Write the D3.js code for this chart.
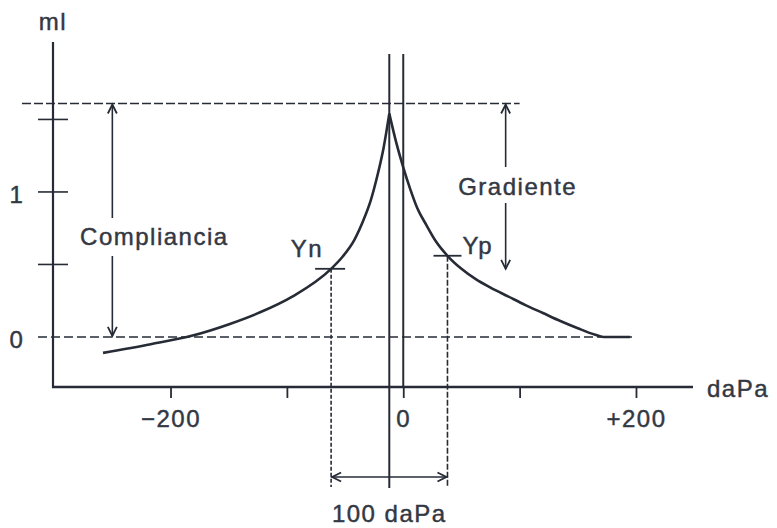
<!DOCTYPE html>
<html>
<head>
<meta charset="utf-8">
<script src="https://cdn.jsdelivr.net/npm/d3@7/dist/d3.min.js"></script>
<style>
  html, body { margin: 0; padding: 0; background: #fff; }
  svg { display: block; }
  text { font-family: "Liberation Sans", Arial, sans-serif; font-size: 24px; fill: #333843; stroke: #333843; stroke-width: 0.45px; letter-spacing: 1.5px; }
</style>
</head>
<body>
<svg id="chart" width="777" height="528"></svg>
<script>
// Tympanogram: compliance (ml) against ear-canal pressure (daPa)

// Left branch of the curve (pressure rising to the peak)
const leftPressure = [-258, -217, -181, -149, -123, -95, -62, -52, -42, -34, -28, -22, -17, -12];
const leftVolume   = [-0.11, -0.05, 0.01, 0.09, 0.17, 0.28, 0.47, 0.555, 0.67, 0.81, 0.94, 1.12, 1.30, 1.54];
// Right branch of the curve (from the peak downwards)
const rightPressure = [-12, -6, 0, 6, 12, 20, 28, 38, 50, 62, 75, 90, 105, 120, 135, 150, 165, 172, 195];
const rightVolume   = [1.54, 1.34, 1.17, 1.02, 0.89, 0.77, 0.66, 0.56, 0.47, 0.40, 0.34, 0.28, 0.22, 0.165, 0.11, 0.06, 0.015, 0, 0];

// Axis ticks and labels
const xTickValues = [-200, -100, 0, 100, 200];
const xTickLabels = { "-200": "\u2212200", "0": "0", "200": "+200" };
const yTickValues = [0.5, 1, 1.5];
const yTickLabels = [{ v: 0, label: "0" }, { v: 1, label: "1" }];

// Key points of the measurement
const peakPressure = -12;
const peakLevel = 1.61;          // top reference line (compliance)
const ynPoint = { p: -62, v: 0.47, label: "Yn" };
const ypPoint = { p: 38, v: 0.56, label: "Yp" };
const complianceArrowP = -250;
const gradientArrowP = 88;
const gradientArrowEnd = 0.47;
const widthLabel = "100 daPa";

const ink = "#262b36";
const svg = d3.select("#chart");

const x = d3.scaleLinear().domain([-301, 249]).range([53, 693]);
const y = d3.scaleLinear().domain([-0.345, 2.034]).range([387, 42]);

const g = svg.append("g");

function line(x1, y1, x2, y2, w, dash) {
  const l = g.append("line")
    .attr("x1", x1).attr("y1", y1).attr("x2", x2).attr("y2", y2)
    .attr("stroke", ink).attr("stroke-width", w).attr("stroke-linecap", "butt");
  if (dash) l.attr("stroke-dasharray", dash);
  return l;
}
function arrowHead(px, py, dir) {
  // open chevron pointing in direction dir: "up", "down", "left", "right"
  const a = 4.5, b = 9;
  let d;
  if (dir === "up") d = `M${px - a},${py + b}L${px},${py}L${px + a},${py + b}`;
  if (dir === "down") d = `M${px - a},${py - b}L${px},${py}L${px + a},${py - b}`;
  if (dir === "left") d = `M${px + b},${py - a}L${px},${py}L${px + b},${py + a}`;
  if (dir === "right") d = `M${px - b},${py - a}L${px},${py}L${px - b},${py + a}`;
  g.append("path").attr("d", d).attr("fill", "none").attr("stroke", ink).attr("stroke-width", 1.8);
}

const x0 = x.range()[0], x1 = x.range()[1];
const yTop = y.range()[1], yBase = y.range()[0];

// Reference lines: peak level and zero level
line(x0 - 31, y(peakLevel), x(100), y(peakLevel), 1.4, "9,3");
line(x0 - 15, y(0), x(200), y(0), 1.6, "9,4");

// Axes
line(x0, yTop, x0, yBase + 1, 2.2);
line(x0 - 1, yBase, x1, yBase, 2.6);

const xAxis = d3.axisBottom(x).tickValues(xTickValues).tickSizeInner(11).tickSizeOuter(0).tickPadding(12)
  .tickFormat(d => xTickLabels[String(d)] || "");
const xa = g.append("g").attr("transform", `translate(0,${yBase})`).call(xAxis);
xa.select(".domain").remove();
xa.selectAll(".tick line").attr("stroke", ink).attr("stroke-width", 1.8);
xa.selectAll(".tick text").attr("font-family", null).attr("font-size", null).attr("fill", null);

yTickValues.forEach(v => line(x0 - 15, y(v), x0 + 15, y(v), 1.6));
yTickLabels.forEach(t => {
  g.append("text").attr("x", 17).attr("y", y(t.v) + 11).attr("text-anchor", "middle").text(t.label);
});
g.append("text").attr("x", x0).attr("y", 30).attr("text-anchor", "middle").text("ml");
g.append("text").attr("x", x1 + 14).attr("y", yBase + 10).text("daPa");

// Vertical lines at the peak pressure and at 0 daPa
line(x(peakPressure), 54, x(peakPressure), 488, 2);
line(x(0), 54, x(0), yBase, 2);

// Yn / Yp markers with their dashed drop lines
line(x(ynPoint.p), y(ynPoint.v), x(ynPoint.p), 487, 1.6, "4,2");
line(x(ypPoint.p), y(ypPoint.v), x(ypPoint.p), 487, 1.6, "6,2");
line(x(ynPoint.p) - 16, y(ynPoint.v), x(ynPoint.p) + 14, y(ynPoint.v), 1.8);
line(x(ypPoint.p) - 14, y(ypPoint.v), x(ypPoint.p) + 14, y(ypPoint.v), 1.8);
g.append("text").attr("x", x(ynPoint.p) - 8).attr("y", y(ynPoint.v) - 12)
  .attr("text-anchor", "end").text(ynPoint.label);
g.append("text").attr("x", x(ypPoint.p) + 15).attr("y", y(ypPoint.v) - 2).text(ypPoint.label);

// 100 daPa span between Yn and Yp
const spanY = 477;
line(x(ynPoint.p), spanY, x(ypPoint.p), spanY, 1.6);
arrowHead(x(ynPoint.p) + 1, spanY, "left");
arrowHead(x(ypPoint.p) - 1, spanY, "right");
g.append("text").attr("x", (x(ynPoint.p) + x(ypPoint.p)) / 2).attr("y", 522)
  .attr("text-anchor", "middle").text(widthLabel);

// Compliance arrow
const cx = x(complianceArrowP);
line(cx, y(peakLevel) + 1, cx, 218, 1.6);
arrowHead(cx, y(peakLevel) + 1, "up");
g.append("text").attr("x", cx + 42).attr("y", 245).attr("text-anchor", "middle").text("Compliancia");
line(cx, 256, cx, y(0) - 1, 1.6);
arrowHead(cx, y(0) - 1, "down");

// Gradient arrow
const gx = x(gradientArrowP);
line(gx, y(peakLevel) + 1, gx, 167, 1.6);
arrowHead(gx, y(peakLevel) + 1, "up");
g.append("text").attr("x", gx + 12).attr("y", 195).attr("text-anchor", "middle").text("Gradiente");
line(gx, 203, gx, y(gradientArrowEnd), 1.6);
arrowHead(gx, y(gradientArrowEnd), "down");

// Tympanogram curve: two monotone branches meeting at a sharp peak
const curve = d3.line().x(d => x(d[0])).y(d => y(d[1])).curve(d3.curveMonotoneX);
const leftData = leftPressure.map((p, i) => [p, leftVolume[i]]);
const rightData = rightPressure.map((p, i) => [p, rightVolume[i]]);
[leftData, rightData].forEach(data => {
  g.append("path").attr("d", curve(data)).attr("fill", "none")
    .attr("stroke", ink).attr("stroke-width", 2.6).attr("stroke-linejoin", "round");
});
</script>
</body>
</html>
